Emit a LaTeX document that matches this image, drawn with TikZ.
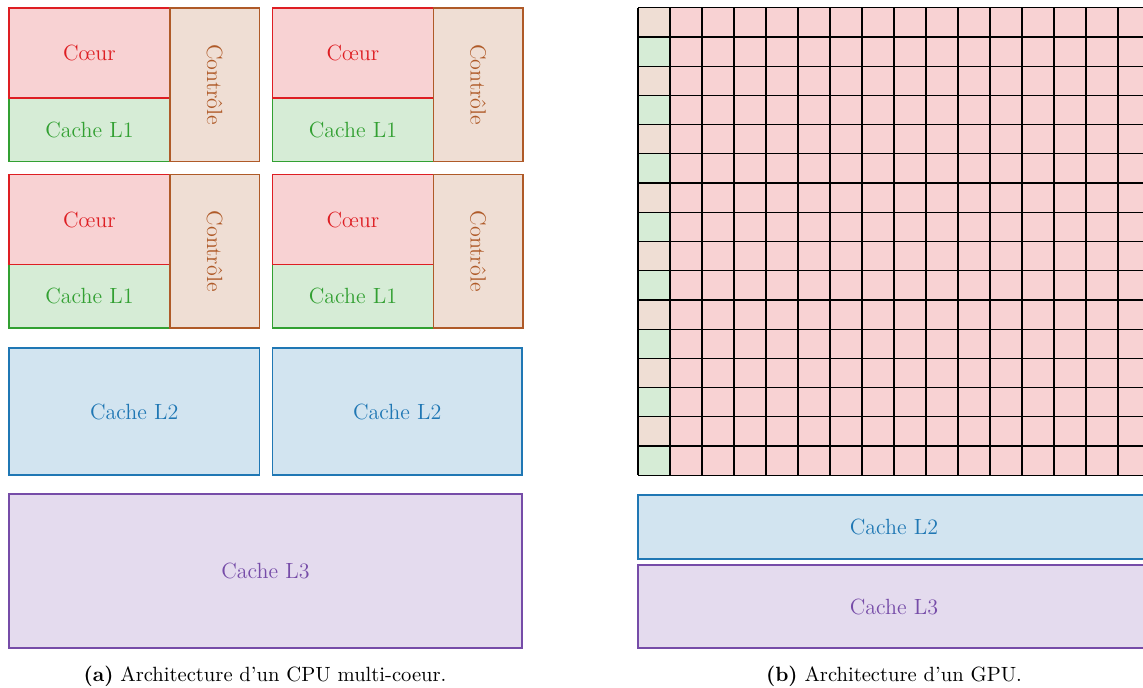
\documentclass[tikz,border=0pt]{standalone}
\usepackage{fontspec}

\definecolor{cRed}{RGB}{222,30,35}
\definecolor{cGreen}{RGB}{50,160,50}
\definecolor{cBrown}{RGB}{175,90,40}
\definecolor{cBlue}{RGB}{31,119,180}
\definecolor{cPurple}{RGB}{118,76,168}

\newcommand{\pu}{0.5pt}

\tikzset{
  blk/.style={draw, line width=0.8pt, inner sep=0pt, outer sep=0pt,
              font=\fontsize{11}{13}\selectfont},
  coreblk/.style={blk, draw=cRed, fill=cRed!20, text=cRed},
  lonblk/.style={blk, draw=cGreen, fill=cGreen!20, text=cGreen},
  ctrlblk/.style={blk, draw=cBrown, fill=cBrown!20, text=cBrown, rotate=-90},
  ltwoblk/.style={blk, draw=cBlue, fill=cBlue!20, text=cBlue},
  lthreeblk/.style={blk, draw=cPurple, fill=cPurple!20, text=cPurple},
  gridln/.style={draw=black, line width=0.6pt},
  captxt/.style={font=\fontsize{10.3}{12}\selectfont, anchor=base, inner sep=0pt}
}

\begin{document}
\begin{tikzpicture}[x=0.5pt, y=-0.5pt]
\useasboundingbox (0,0) rectangle (1143,687);
\clip (0,0) rectangle (1143,687);

% ---- CPU: four cores, each with its L1 cache and control unit
\foreach \n/\bx/\by in {a/9/8, b/272.5/8, c/9/174.5, d/272.5/174.5} {
  \node[lonblk, minimum width=161*\pu, minimum height=63.5*\pu]
    (lone-\n) at (\bx+80.5, \by+121.75) {Cache L1};
  \node[coreblk, minimum width=161*\pu, minimum height=90*\pu]
    (core-\n) at (\bx+80.5, \by+45) {Cœur};
  \node[ctrlblk, minimum width=153.5*\pu, minimum height=89.5*\pu]
    (ctrl-\n) at (\bx+205.75, \by+76.75) {Contrôle};
}

% ---- CPU: shared L2 caches and L3 cache
\node[ltwoblk, minimum width=250.5*\pu, minimum height=127*\pu]
  (ltwo-a) at (134.25, 411.5) {Cache L2};
\node[ltwoblk, minimum width=249.5*\pu, minimum height=127*\pu]
  (ltwo-b) at (397.25, 411.5) {Cache L2};
\node[lthreeblk, minimum width=513*\pu, minimum height=154*\pu]
  (lthree-cpu) at (265.5, 571) {Cache L3};

% ---- GPU: array of many small cores
\fill[cRed!20] (638,7.7) rectangle (1150,475.3);
\foreach \r in {0,...,15} {
  \pgfmathtruncatemacro{\odd}{mod(\r,2)}
  \ifnum\odd=0
    \fill[cBrown!20] (638,7.7+29.225*\r) rectangle (670,7.7+29.225*\r+29.225);
  \else
    \fill[cGreen!20] (638,7.7+29.225*\r) rectangle (670,7.7+29.225*\r+29.225);
  \fi
}
\foreach \c in {0,...,16}
  \draw[gridln] (638+32*\c, 7.7) -- (638+32*\c, 475.3);
\foreach \r in {0,...,16}
  \draw[gridln] (638, 7.7+29.225*\r) -- (1150, 7.7+29.225*\r);

% ---- GPU: caches
\node[ltwoblk, minimum width=512*\pu, minimum height=64*\pu]
  (ltwo-gpu) at (894, 527) {Cache L2};
\node[lthreeblk, minimum width=512*\pu, minimum height=83*\pu]
  (lthree-gpu) at (894, 606.5) {Cache L3};

% ---- captions
\node[captxt] (cap-a) at (265, 681) {\textbf{(a)} Architecture d’un CPU multi-coeur.};
\node[captxt] (cap-b) at (894, 681) {\textbf{(b)} Architecture d’un GPU.};
\end{tikzpicture}
\end{document}
